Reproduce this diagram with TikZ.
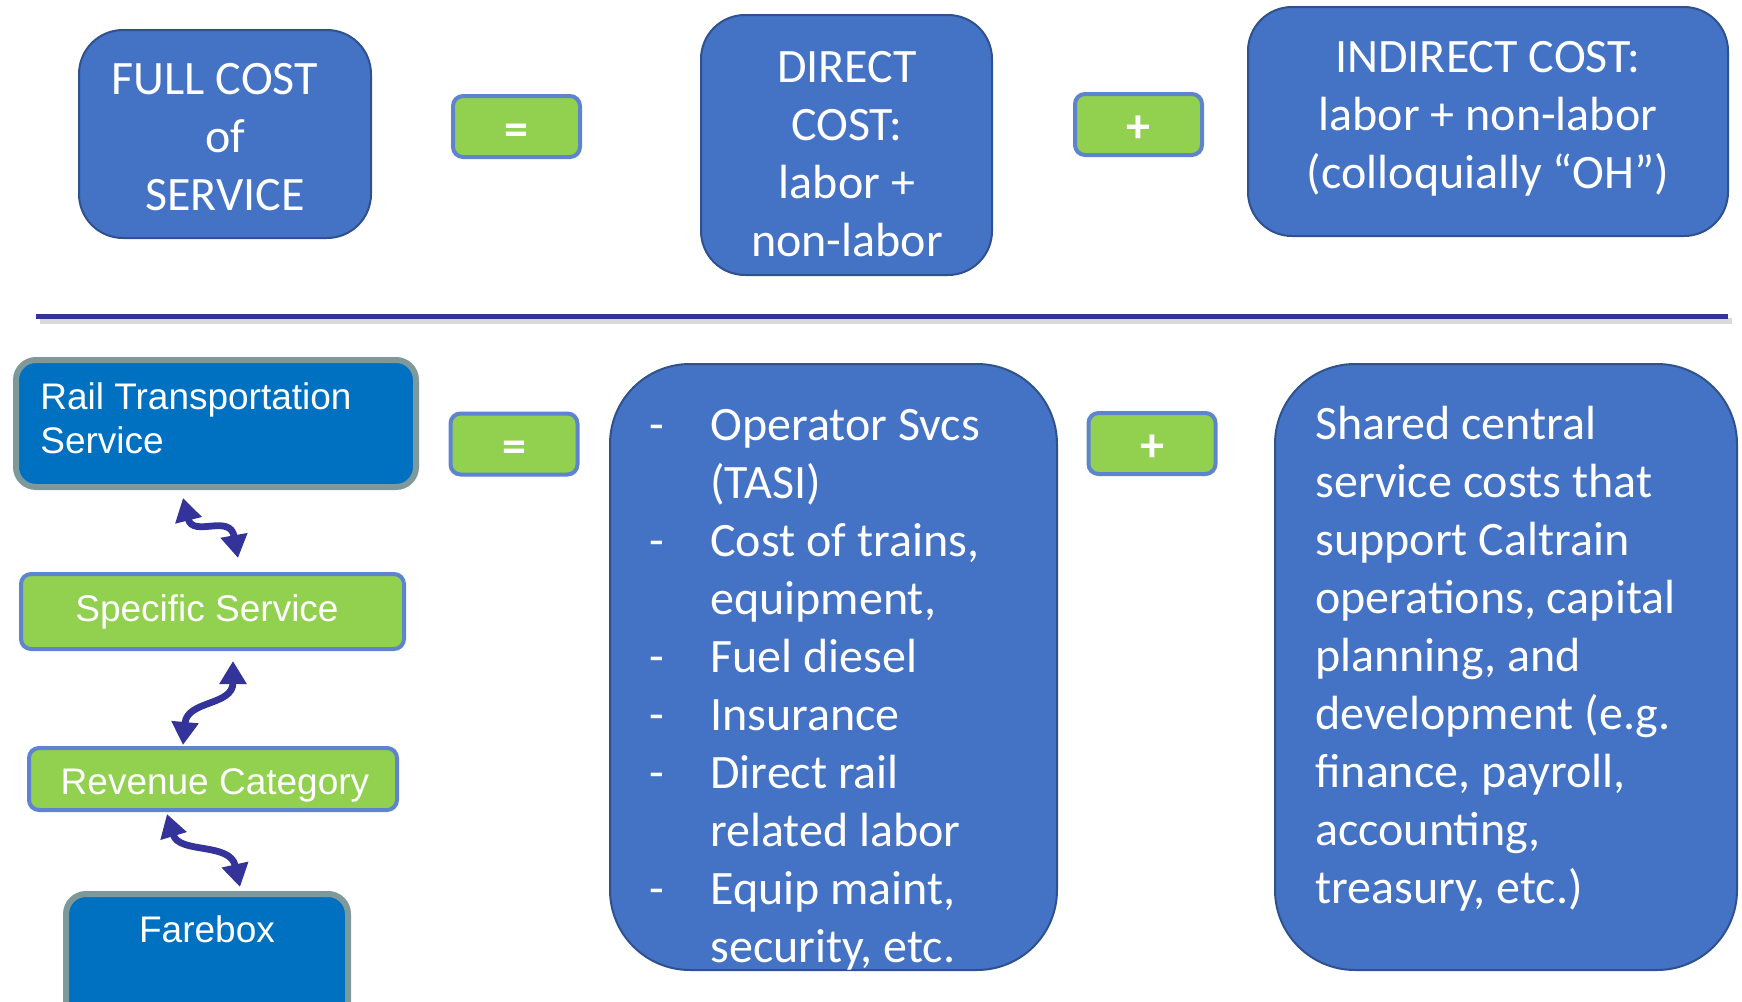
\documentclass[tikz,border=0pt]{standalone}
\usepackage{fontspec}
\setmainfont{Carlito}
\newfontfamily\arialfont{Liberation Sans}
\usetikzlibrary{arrows.meta,calc}

\definecolor{costblue}{HTML}{4472C4}
\definecolor{costedge}{HTML}{2F528F}
\definecolor{opgreen}{HTML}{92D050}
\definecolor{opedge}{HTML}{5E84CF}
\definecolor{railblue}{HTML}{0070C0}
\definecolor{railedge}{HTML}{7D999C}
\definecolor{indigo}{HTML}{333399}

\tikzset{
  costbox/.style={draw=costedge, line width=1pt, fill=costblue, rounded corners=#1, inner sep=0pt},
  costbox/.default=22pt,
  opbox/.style={draw=opedge, line width=2pt, fill=opgreen, rounded corners=5pt,
                inner sep=0pt, minimum width=63.5pt, minimum height=30.5pt},
  levelbox/.style={draw=opedge, line width=2pt, fill=opgreen, rounded corners=5pt, inner sep=0pt},
  railbox/.style={draw=railedge, line width=3pt, fill=railblue, rounded corners=10pt, inner sep=0pt},
  bodytext/.style={text=white, inner sep=0pt, font=\fontsize{24}{29}\selectfont},
  optext/.style={text=white, inner sep=0pt, font=\bfseries\fontsize{24}{29}\selectfont},
  leveltext/.style={text=white, inner sep=0pt, font=\arialfont\fontsize{18.5}{22}\selectfont},
  dblarrow/.style={draw=indigo, line width=3.4pt,
                   arrows={Triangle[length=11.5pt,width=13pt]-Triangle[length=11.5pt,width=13pt]}}
}

\newcommand{\itemdash}{\makebox[30.5pt][l]{-}}
\newcommand{\itemgap}{\hspace*{30.5pt}}

\begin{document}
\begin{tikzpicture}[x=0.5pt,y=-0.5pt]
  \useasboundingbox (0,0) rectangle (1742,1002);
  \clip (0,0) rectangle (1742,1002);

  % ---- upper equation: full cost = direct + indirect
  \node[costbox, minimum width=146pt, minimum height=104pt] (full) at (225,134) {};
  \node[bodytext, align=center] (fulltext) at (225,137)
    {FULL COST\hspace*{10pt}\\of\\SERVICE};

  \node[opbox] (eqtop) at (516.5,126.5) {};
  \node[optext] (eqtoptext) at (516.5,135) {=};

  \node[costbox, minimum width=145.5pt, minimum height=130pt] (directtop) at (846.5,145) {};
  \node[bodytext, align=center] (directtoptext) at (847,154)
    {DIRECT\\COST:\\labor +\\non-labor};

  \node[opbox] (plustop) at (1138.5,124.5) {};
  \node[optext] (plustoptext) at (1138.5,129) {+};

  \node[costbox, minimum width=240pt, minimum height=114.5pt] (indirect) at (1488,121.5) {};
  \node[bodytext, align=center] (indirecttext) at (1488,119)
    {INDIRECT COST:\\labor + non-labor\\(colloquially “OH”)};

  % ---- divider with its soft shadow
  \coordinate (divL) at (36,316);
  \coordinate (divR) at (1728,316);
  \draw[black!25, line width=3pt, opacity=0.6] ($(divL)+(4,5)$) -- ($(divR)+(4,5)$);
  \draw[indigo, line width=2.5pt] (divL) -- (divR);

  % ---- cost hierarchy on the left
  \node[railbox, minimum width=200pt, minimum height=63.5pt] (rail) at (216,423.5) {};
  \node[leveltext, align=left, anchor=north west] (railtext) at (40,382)
    {Rail Transportation\\Service};

  \node[levelbox, minimum width=191.5pt, minimum height=37.5pt] (spec) at (212.5,611.5) {};
  \node[leveltext] (spectext) at (207,612) {Specific Service};

  \node[levelbox, minimum width=184pt, minimum height=31pt] (rev) at (213,779) {};
  \node[leveltext] (revtext) at (215,785) {Revenue Category};

  \node[railbox, minimum width=141pt, minimum height=73pt] (fare) at (207,967) {};
  \node[leveltext] (faretext) at (207,929) {Farebox};

  \draw[dblarrow] ($(rail.south)+(-33,8)$) .. controls +(10,40) and +(-8,-45) .. ($(spec.north)+(25.5,-14)$);
  \draw[dblarrow] ($(spec.south)+(20.5,10)$) .. controls +(0,45) and +(4,-45) .. ($(rev.north)+(-30,-1)$);
  \draw[dblarrow] ($(rev.south)+(-46,2)$) .. controls +(12,40) and +(-10,-45) .. ($(fare.north)+(33,-4)$);

  % ---- lower equation: rail service = direct items + shared costs
  \node[opbox] (eqbot) at (514,444) {};
  \node[optext] (eqbottext) at (514,452) {=};

  \node[costbox=40pt, minimum width=223.5pt, minimum height=303pt] (directbot) at (833.5,667) {};
  \node[bodytext, align=left, anchor=north west] (directbottext) at (649,408.5)
    {\itemdash Operator Svcs\\
     \itemgap (TASI)\\
     \itemdash Cost of trains,\\
     \itemgap equipment,\\
     \itemdash Fuel diesel\\
     \itemdash Insurance\\
     \itemdash Direct rail\\
     \itemgap related labor\\
     \itemdash Equip maint,\\
     \itemgap security, etc.};

  \node[opbox] (plusbot) at (1152,443.5) {};
  \node[optext] (plusbottext) at (1152,448) {+};

  \node[costbox=40pt, minimum width=231pt, minimum height=303pt] (shared) at (1506,667) {};
  \node[bodytext, align=left, anchor=north west] (sharedtext) at (1315,406)
    {Shared central\\
     service costs that\\
     support Caltrain\\
     operations, capital\\
     planning, and\\
     development (e.g.\\
     finance, payroll,\\
     accounting,\\
     treasury, etc.)};
\end{tikzpicture}
\end{document}
